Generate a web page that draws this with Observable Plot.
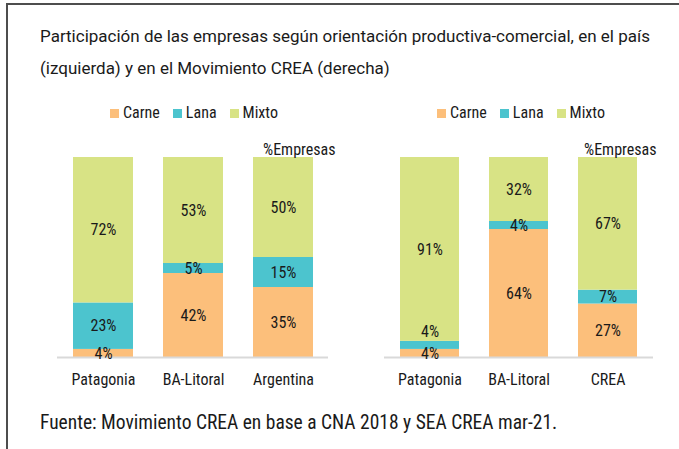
<!DOCTYPE html>
<html>
<head>
<meta charset="utf-8">
<script src="https://cdn.jsdelivr.net/npm/d3@7"></script>
<script src="https://cdn.jsdelivr.net/npm/@observablehq/plot@0.6"></script>
<style>
  html, body { margin: 0; padding: 0; background: #fff; }
  #frame { position: relative; width: 679px; height: 449px; overflow: hidden; background: #fff;
    font-family: "Roboto Condensed", Roboto, sans-serif; color: #1a1a1a; }
  #border { position: absolute; left: 6px; top: 3px; right: -10px; bottom: -10px;
    border-top: 2px solid #4d4d4d; border-left: 2px solid #4d4d4d; }
  #title { position: absolute; left: 40px; top: 19.5px; font-family: Roboto, sans-serif; font-size: 17px; line-height: 32px; white-space: nowrap; }
  #caption { position: absolute; left: 40px; top: 412.5px; font-size: 19.5px; line-height: 20px; white-space: nowrap; }
  .leg { position: absolute; top: 103px; }
  .lg-swatches { margin: 0 !important; font-size: 16px !important; font-family: "Roboto Condensed", Roboto, sans-serif !important; color: #1a1a1a; }
  .lg-swatches-wrap { min-height: 0 !important; line-height: 20px; flex-wrap: nowrap !important; }
  .lg-swatch { margin-right: 13px !important; }
  .lg-swatch > svg { margin-right: 4px !important; }
  .panel { position: absolute; top: 125px; }
  .panel svg text { font-size: 16px; font-family: "Roboto Condensed", Roboto, sans-serif; }
</style>
</head>
<body>
<div id="frame">
  <div id="border"></div>
  <div id="title">Participación de las empresas según orientación productiva-comercial, en el país<br>(izquierda) y en el Movimiento CREA (derecha)</div>
  <div id="leg1" class="leg" style="left:110px"></div>
  <div id="leg2" class="leg" style="left:437px"></div>
  <div id="p1" class="panel" style="left:0px"></div>
  <div id="p2" class="panel" style="left:340px"></div>
  <div id="caption">Fuente: Movimiento CREA en base a CNA 2018 y SEA CREA mar-21.</div>
</div>
<script>
// ---- data ----
const tipos = ["Carne", "Lana", "Mixto"];
const colores = ["#FCBF7B", "#4CC4CE", "#D8E385"];
const yLabel = "%Empresas";

const paisRegiones = ["Patagonia", "BA-Litoral", "Argentina"];
const paisCarne = [4, 42, 35];
const paisLana  = [23, 5, 15];
const paisMixto = [72, 53, 50];

const creaRegiones = ["Patagonia", "BA-Litoral", "CREA"];
const creaCarne = [4, 64, 27];
const creaLana  = [4, 4, 7];
const creaMixto = [91, 32, 67];

function toRows(regiones, carne, lana, mixto) {
  return regiones.flatMap((r, i) => [
    {region: r, tipo: "Carne", value: carne[i]},
    {region: r, tipo: "Lana", value: lana[i]},
    {region: r, tipo: "Mixto", value: mixto[i]}
  ]);
}

function panel(regiones, rows, {width, marginLeft, marginRight, labelDx, isShifted}) {
  const stack = (extra) => Plot.stackY({x: "region", y: "value", z: "tipo", offset: "normalize", order: tipos, ...extra});
  return Plot.plot({
    width, height: 270,
    marginTop: 32, marginBottom: 38, marginLeft, marginRight,
    style: {background: "transparent", color: "#1a1a1a", fontSize: "16px", fontFamily: "'Roboto Condensed', Roboto, sans-serif"},
    x: {domain: regiones, paddingInner: 1/3, paddingOuter: 0.17, label: null, tickSize: 0, tickPadding: 16},
    y: {domain: [0, 1], axis: null},
    color: {domain: tipos, range: colores},
    marks: [
      Plot.barY(rows, stack({fill: "tipo"})),
      Plot.ruleY([0], {stroke: "#d9d9d9", strokeWidth: 2}),
      Plot.text(rows, stack({text: d => isShifted(d) ? null : `${d.value}%`, fill: "#1a1a1a"})),
      Plot.text(rows, stack({text: d => isShifted(d) ? `${d.value}%` : null, fill: "#1a1a1a", dy: -14})),
      Plot.text([yLabel], {text: d => d, frameAnchor: "top-right", textAnchor: "end", dx: labelDx, dy: -14, fill: "#1a1a1a"})
    ]
  });
}

const legendOpts = {color: {domain: tipos, range: colores}, legend: "swatches", className: "lg",
  swatchWidth: 9, swatchHeight: 9};

document.getElementById("leg1").append(Plot.legend(legendOpts));
document.getElementById("leg2").append(Plot.legend(legendOpts));

document.getElementById("p1").append(panel(paisRegiones, toRows(paisRegiones, paisCarne, paisLana, paisMixto),
  {width: 340, marginLeft: 57, marginRight: 12, labelDx: 7, isShifted: () => false}));
document.getElementById("p2").append(panel(creaRegiones, toRows(creaRegiones, creaCarne, creaLana, creaMixto),
  {width: 339, marginLeft: 44, marginRight: 26, labelDx: 3, isShifted: d => d.region === "Patagonia" && d.tipo === "Lana"}));
</script>
</body>
</html>
